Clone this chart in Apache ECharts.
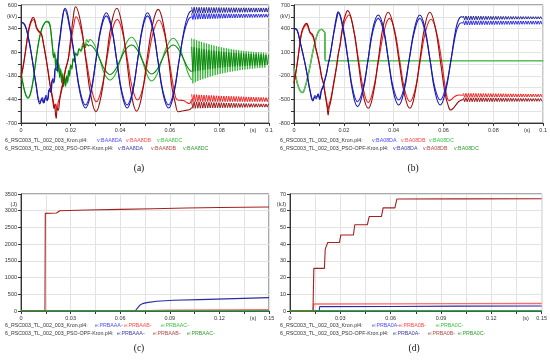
<!DOCTYPE html>
<html><head><meta charset="utf-8">
<script src="https://cdn.jsdelivr.net/npm/echarts/dist/echarts.min.js"></script>
<style>html,body{margin:0;padding:0;background:#fff}#c{width:550px;height:363px}</style>
</head><body><div id="c"></div>
<script>
// ---------------- DATA ----------------
// (a) voltages, Kron (bright) and PSO-OPF-Kron (dark): [time s, kV]
const aBlueK = [[0,410],[0.0015,380],[0.003,230],[0.0045,0],[0.006,-260],[0.0077,-470],[0.0086,-420],[0.0093,-475],[0.0101,-395],[0.0108,-440],[0.0115,-320],[0.0121,-350],[0.0128,-210],[0.0134,-240],[0.014,-80],[0.0146,-100],[0.0152,120],[0.0159,260],[0.0166,420],[0.0176,550],[0.0197,340],[0.0218,-10],[0.0239,-356],[0.026,-500],[0.0281,-356],[0.0302,-10],[0.0323,336],[0.0344,480],[0.0365,336],[0.0386,-10],[0.0407,-356],[0.0428,-500],[0.0449,-356],[0.047,-10],[0.049,336],[0.051,480],[0.0531,336],[0.0552,-10],[0.0573,-356],[0.0595,-500],[0.0616,-356],[0.0637,-20],[0.0658,300],[0.0675,440],[0.0688,470]];
const aBlueP = [[0,415],[0.0015,385],[0.003,240],[0.0045,10],[0.006,-270],[0.0076,-490],[0.0084,-440],[0.0091,-480],[0.0099,-420],[0.0106,-455],[0.0113,-340],[0.0119,-360],[0.0126,-230],[0.0132,-260],[0.0138,-100],[0.0144,-120],[0.015,100],[0.0157,250],[0.0164,400],[0.0172,530],[0.0178,565],[0.0197,360],[0.0218,-10],[0.0239,-381],[0.026,-535],[0.0281,-381],[0.0302,-10],[0.0323,361],[0.0344,515],[0.0365,361],[0.0386,-10],[0.0407,-381],[0.0428,-535],[0.0449,-381],[0.047,-10],[0.049,361],[0.051,515],[0.0531,361],[0.0552,-10],[0.0573,-381],[0.0595,-535],[0.0616,-381],[0.0637,-20],[0.0658,330],[0.0675,500],[0.0688,540]];
const aRedK = [[0,-195],[0.0008,-85],[0.0015,35],[0.0022,160],[0.0028,270],[0.0035,360],[0.0042,415],[0.005,440],[0.0057,400],[0.0063,340],[0.007,310],[0.0077,290],[0.0083,270],[0.009,180],[0.0097,80],[0.0103,-20],[0.011,-140],[0.0117,-270],[0.0123,-350],[0.013,-450],[0.0135,-520],[0.014,-490],[0.0145,-560],[0.015,-470],[0.0156,-420],[0.0163,-320],[0.017,-240],[0.018,-100],[0.019,0],[0.0198,120],[0.0205,250],[0.0213,380],[0.0222,470],[0.0243,320],[0.0263,0],[0.0284,-320],[0.0304,-465],[0.0325,-320],[0.0346,0],[0.0367,315],[0.0388,442],[0.0408,315],[0.0429,0],[0.0449,-315],[0.047,-447],[0.0491,-315],[0.0512,0],[0.0534,310],[0.0556,435],[0.0577,300],[0.0598,-20],[0.0612,-260],[0.0622,-400],[0.0628,-440],[0.064,-450],[0.0655,-452],[0.0666,-470],[0.0678,-485],[0.0688,-440]];
const aRedP = [[0,-205],[0.0008,-90],[0.0015,30],[0.0022,170],[0.0028,288],[0.0035,380],[0.0042,435],[0.0049,465],[0.0056,430],[0.0062,360],[0.0069,324],[0.0076,300],[0.0082,288],[0.0089,200],[0.0096,90],[0.0102,-6],[0.0109,-130],[0.0116,-263],[0.0122,-360],[0.0129,-470],[0.0133,-540],[0.0136,-500],[0.0139,-600],[0.0142,-650],[0.0146,-540],[0.015,-560],[0.0156,-447],[0.0163,-350],[0.017,-263],[0.018,-110],[0.019,-6],[0.0197,150],[0.0203,288],[0.021,450],[0.022,580],[0.0241,400],[0.0261,0],[0.0282,-403],[0.0302,-575],[0.0323,-403],[0.0344,0],[0.0365,400],[0.0386,565],[0.0406,400],[0.0426,0],[0.0446,-400],[0.0466,-570],[0.0487,-400],[0.0508,0],[0.0531,390],[0.0553,552],[0.0574,390],[0.0595,0],[0.061,-330],[0.0622,-480],[0.0634,-576],[0.0645,-570],[0.0655,-565],[0.0668,-558],[0.0682,-550],[0.0688,-530]];
const aGreenK = [[0,-150],[0.001,-300],[0.002,-400],[0.0028,-430],[0.0036,-400],[0.0045,-300],[0.0055,-120],[0.0065,80],[0.0075,240],[0.0085,340],[0.0095,400],[0.0103,420],[0.011,420],[0.0117,380],[0.0123,250],[0.0128,120],[0.0132,30],[0.0136,80],[0.014,-60],[0.0144,10],[0.0148,-120],[0.0152,-40],[0.0156,-180],[0.016,-100],[0.0164,-240],[0.0168,-150],[0.0172,-280],[0.0176,-190],[0.018,-300],[0.0184,-200],[0.0188,-260],[0.0192,-140],[0.0196,-190],[0.02,-80],[0.0205,-110],[0.021,0],[0.0215,-30],[0.022,60],[0.0227,40],[0.0234,120],[0.0242,100],[0.025,180],[0.0258,150],[0.0265,220],[0.0272,190],[0.0277,220],[0.0297,160],[0.0318,0],[0.0338,-166],[0.0359,-226],[0.038,-166],[0.0401,0],[0.0423,170],[0.0446,244],[0.0467,170],[0.0488,0],[0.0508,-168],[0.0527,-237],[0.0548,-168],[0.0569,0],[0.0592,165],[0.0614,233],[0.0635,165],[0.0656,0],[0.0675,-160],[0.0688,-226]];
const aGreenP = [[0,-140],[0.001,-290],[0.002,-390],[0.0028,-420],[0.0036,-390],[0.0045,-290],[0.0055,-110],[0.0065,90],[0.0075,250],[0.0085,350],[0.0095,400],[0.0103,415],[0.011,410],[0.0117,370],[0.0123,240],[0.0128,100],[0.0132,20],[0.0136,60],[0.014,-80],[0.0144,-10],[0.0148,-140],[0.0152,-60],[0.0156,-200],[0.016,-120],[0.0164,-260],[0.0168,-170],[0.0172,-300],[0.0176,-200],[0.018,-280],[0.0184,-180],[0.0188,-240],[0.0192,-120],[0.0196,-170],[0.02,-60],[0.0205,-90],[0.021,10],[0.0215,-10],[0.022,70],[0.0227,50],[0.0234,110],[0.0242,90],[0.025,150],[0.0258,130],[0.0265,170],[0.0272,150],[0.0277,160],[0.0297,113],[0.0318,0],[0.0338,-113],[0.0359,-165],[0.038,-113],[0.0401,0],[0.0423,113],[0.0446,160],[0.0467,113],[0.0488,0],[0.0508,-113],[0.0527,-160],[0.0548,-113],[0.0569,0],[0.0592,113],[0.0614,160],[0.0635,113],[0.0656,0],[0.0675,-100],[0.0688,-135]];
// (a) high-frequency oscillation after breaker opening, sampled every oscStep from aOscStart
const aOscStart = 0.0688, bOscStart = 0.068, oscStep = 0.0005;
const aBlueKosc = [508,440,508,442,507,443,507,445,506,446,506,447,505,448,505,449,505,450,504,451,504,452,504,453,503,454,503,455,503,456,503,457,502,458,502,459,502,460,502,460,501,461,501,462,501,462,501,463,500,463,500,464,500,464,500,465,500,465,500,466,500,466,500];
const aBluePosc = [575,508,575,509,574,510,574,511,574,511,573,512,573,513,573,513,572,514,572,515,572,515,571,516,571,516,571,517,571,517,570,518,570,518,570,519,570,519,569,519,569,520,569,520,569,520,569,521,568,521,568,521,568,521,568,522,568,522,568,522,568,522,568];
const aRedKosc = [-384,-465,-386,-465,-388,-465,-390,-465,-391,-465,-393,-465,-394,-465,-396,-465,-397,-465,-398,-465,-400,-465,-401,-465,-402,-465,-403,-465,-404,-465,-405,-465,-406,-465,-407,-465,-408,-465,-409,-465,-410,-465,-411,-465,-412,-465,-413,-465,-414,-465,-415,-465,-416,-465,-417,-465,-418,-465,-419,-465,-420,-465,-420];
const aRedPosc = [-465,-538,-466,-538,-467,-537,-468,-537,-469,-536,-470,-536,-471,-535,-472,-535,-473,-534,-474,-534,-475,-533,-476,-533,-477,-532,-478,-532,-479,-531,-480,-531,-481,-530,-482,-530,-483,-529,-484,-529,-485,-528,-485,-528,-486,-527,-486,-527,-487,-526,-487,-526,-488,-526,-488,-525,-489,-525,-489,-525,-490,-525,-490];
const aGreenKosc = [233,-263,222,-250,212,-238,202,-227,193,-217,184,-207,176,-198,168,-189,160,-181,153,-173,146,-166,140,-159,134,-153,128,-147,123,-141,118,-136,113,-131,109,-126,105,-122,101,-118,97,-114,94,-110,91,-107,88,-104,85,-101,83,-98,81,-95,79,-93,77,-91,75,-89,73];
const aGreenPosc = [140,-135,134,-130,128,-125,122,-120,117,-116,112,-112,107,-108,103,-104,99,-100,95,-97,91,-94,88,-91,85,-88,82,-85,79,-83,76,-81,74,-79,72,-77,70,-75,68,-73,66,-71,64,-70,62,-68,61,-67,59,-66,58,-65,57,-64,55,-63,54,-62,53,-61,52,-60,51];

// (b) voltages
const bBlueK = [[0,400],[0.0012,380],[0.0024,234],[0.0034,100],[0.0044,-41],[0.0054,-200],[0.0064,-380],[0.0077,-507],[0.0084,-450],[0.009,-470],[0.0097,-430],[0.0104,-486],[0.011,-380],[0.0117,-330],[0.0124,-250],[0.0131,-160],[0.0137,-60],[0.0144,40],[0.015,150],[0.0157,290],[0.0164,410],[0.0171,520],[0.0178,600],[0.0197,380],[0.0217,0],[0.0236,-374],[0.0255,-529],[0.0276,-374],[0.0297,0],[0.0317,370],[0.0338,530],[0.0359,370],[0.0379,0],[0.0399,-360],[0.042,-507],[0.0441,-360],[0.0462,0],[0.0484,370],[0.0505,530],[0.0525,370],[0.0546,0],[0.0566,-360],[0.0587,-507],[0.0608,-360],[0.0629,-20],[0.0648,320],[0.066,440],[0.0672,475],[0.068,470]];
const bBlueP = [[0,405],[0.0012,385],[0.0024,240],[0.0034,105],[0.0044,-40],[0.0054,-210],[0.0064,-390],[0.0076,-520],[0.0083,-470],[0.0089,-490],[0.0096,-440],[0.0103,-500],[0.0109,-400],[0.0116,-350],[0.0123,-260],[0.013,-180],[0.0136,-70],[0.0143,30],[0.0149,140],[0.0156,280],[0.0163,420],[0.017,540],[0.0177,615],[0.0197,420],[0.0217,0],[0.0236,-415],[0.0255,-592],[0.0276,-415],[0.0297,0],[0.0317,410],[0.0338,573],[0.0359,410],[0.0379,0],[0.0399,-405],[0.042,-571],[0.0441,-405],[0.0462,0],[0.0484,410],[0.0505,573],[0.0525,410],[0.0546,0],[0.0566,-405],[0.0587,-571],[0.0608,-405],[0.0629,-20],[0.0648,370],[0.066,510],[0.0672,550],[0.068,545]];
const bRedK = [[0,-290],[0.0008,-140],[0.0016,30],[0.0024,210],[0.0031,340],[0.0041,420],[0.0051,450],[0.0058,400],[0.0065,340],[0.0071,320],[0.0078,280],[0.0087,150],[0.0096,30],[0.0104,-90],[0.0111,-210],[0.0118,-290],[0.0124,-400],[0.0129,-490],[0.0133,-560],[0.0137,-620],[0.0141,-560],[0.0145,-520],[0.0151,-440],[0.0158,-310],[0.0164,-200],[0.0171,-70],[0.0178,80],[0.0185,190],[0.0191,320],[0.0198,430],[0.0206,510],[0.022,573],[0.0239,390],[0.0259,0],[0.0279,-380],[0.0298,-541],[0.0318,-375],[0.034,0],[0.0362,375],[0.0383,530],[0.0404,375],[0.0424,0],[0.0444,-375],[0.0465,-529],[0.0486,-375],[0.0507,0],[0.0528,365],[0.055,518],[0.0571,365],[0.0592,0],[0.0606,-330],[0.0615,-480],[0.0622,-515],[0.063,-505],[0.064,-475],[0.065,-455],[0.066,-445],[0.068,-448]];
const bRedP = [[0,-300],[0.0008,-150],[0.0016,20],[0.0024,220],[0.0031,361],[0.0041,440],[0.0051,467],[0.0058,420],[0.0065,350],[0.0071,340],[0.0078,300],[0.0087,160],[0.0096,40],[0.0104,-84],[0.0111,-220],[0.0118,-300],[0.0124,-422],[0.0129,-520],[0.0133,-600],[0.0137,-698],[0.0141,-600],[0.0145,-560],[0.0151,-465],[0.0158,-330],[0.0164,-220],[0.0171,-84],[0.0178,80],[0.0185,200],[0.0191,340],[0.0198,480],[0.0204,551],[0.0215,628],[0.0236,440],[0.0257,0],[0.0277,-431],[0.0298,-613],[0.0318,-431],[0.0338,0],[0.0358,431],[0.0378,607],[0.0399,431],[0.0421,0],[0.0443,-431],[0.0465,-613],[0.0485,-431],[0.0505,0],[0.0525,431],[0.0545,607],[0.0566,431],[0.0587,0],[0.0606,-420],[0.0618,-570],[0.0629,-635],[0.064,-610],[0.065,-570],[0.066,-530],[0.0673,-507],[0.068,-503]];
const bGreenK = [[0,-95],[0.0012,-280],[0.0024,-390],[0.0034,-415],[0.0044,-350],[0.0054,-230],[0.0064,-84],[0.0074,80],[0.0083,210],[0.0091,300],[0.0098,360],[0.0105,385],[0.0111,390],[0.0118,370],[0.0124,340],[0.01245,-8],[0.1,-8]];
const bGreenP = [[0,-92],[0.0012,-276],[0.0024,-386],[0.0034,-412],[0.0044,-348],[0.0054,-228],[0.0064,-82],[0.0074,82],[0.0083,212],[0.0091,302],[0.0098,362],[0.0105,386],[0.0111,390],[0.0118,372],[0.0124,342],[0.01245,-6],[0.1,-6]];
const bBlueKosc = [500,446,500,447,500,447,500,448,499,448,499,449,499,449,499,450,499,450,498,450,498,451,498,451,498,451,498,452,498,452,498,452,497,453,497,453,497,453,497,454,497,454,497,454,497,454,497,455,497,455,497,455,497,455,497,455,497,455,497,455,497,455,497,455];
const bBluePosc = [560,509,560,510,559,510,559,511,559,511,558,512,558,512,558,513,557,513,557,514,557,514,556,515,556,515,556,516,556,516,555,517,555,517,555,518,554,518,554,519,554,519,554,520,553,520,553,520,553,521,553,521,553,521,552,522,552,522,552,522,552,522,552,522];
const bRedKosc = [-422,-474,-423,-474,-423,-473,-424,-473,-424,-473,-424,-473,-425,-473,-425,-473,-425,-472,-426,-472,-426,-472,-426,-472,-427,-472,-427,-472,-427,-471,-428,-471,-428,-471,-428,-471,-429,-471,-429,-471,-429,-470,-430,-470,-430,-470,-430,-470,-431,-470,-431,-470,-431,-469,-432,-469,-432,-469,-432,-469,-432,-469,-432,-469];
const bRedPosc = [-478,-530,-479,-530,-479,-529,-480,-529,-480,-529,-480,-529,-481,-529,-481,-528,-481,-528,-482,-528,-482,-528,-482,-528,-483,-527,-483,-527,-483,-527,-484,-527,-484,-527,-484,-526,-485,-526,-485,-526,-485,-526,-486,-526,-486,-525,-486,-525,-487,-525,-487,-525,-487,-525,-488,-524,-488,-524,-488,-524,-488,-524,-488,-524];

// (c) energies (J)
const cRedP = [[0,0],[0.0145,0],[0.0147,2920],[0.0215,2930],[0.0225,2975],[0.0235,3000],[0.04,3020],[0.06,3040],[0.08,3060],[0.1,3080],[0.12,3095],[0.15,3110]];
const cRedK = [[0,0],[0.069,0],[0.075,15],[0.09,25],[0.12,35],[0.15,40]];
const cBlueP = [[0,0],[0.069,0],[0.0702,70],[0.0718,170],[0.0735,220],[0.0761,250],[0.0822,290],[0.0923,320],[0.108,340],[0.129,370],[0.15,400]];
const cBlueK = [[0,0],[0.15,0]];
const cGreenK = [[0,0],[0.15,0]];
const cGreenP = [[0,0],[0.15,0]];
// (d) energies (kJ)
const dRedP = [[0,0],[0.0137,0],[0.0142,25.5],[0.0205,25.5],[0.021,37],[0.0225,41],[0.0295,41],[0.0303,45.5],[0.0378,45.5],[0.0386,51.6],[0.0461,51.6],[0.0472,56.5],[0.0545,56.5],[0.0555,61.7],[0.0625,61.7],[0.0637,67],[0.1,67.1],[0.15,67.2]];
const dRedK = [[0,0],[0.0138,0],[0.0142,4.2],[0.06,4.3],[0.1,4.4],[0.15,4.5]];
const dBlueP = [[0,0],[0.0174,0],[0.0177,2.6],[0.06,2.7],[0.1,2.9],[0.15,3]];
const dBlueK = [[0,0],[0.15,0]];
const dGreenK = [[0,0],[0.15,0]];
const dGreenP = [[0,0],[0.15,0]];

// legend / caption texts
const fileK = '6_RSC003_TL_002_003_Kron.pl4:';
const fileP = '6_RSC003_TL_002_003_PSO-OPF-Kron.pl4:';
const namesA = ['v:BAA8DA','v:BAA8DB','v:BAA8DC'];
const namesB = ['v:BA08DA','v:BA08DB','v:BA08DC'];
const namesC = ['e:PRBAAA-','e:PRBAAB-','e:PRBAAC-'];
const namesD = ['e:PRBA0A-','e:PRBA0B-','e:PRBA0C-'];
const captions = ['(a)','(b)','(c)','(d)'];

// ---------------- CHART ----------------
const FONT = '"Liberation Sans", Arial, sans-serif';
const COL = {bK:'#1f1ff2', bP:'#1b1b95', rK:'#f41818', rP:'#960b0b', gK:'#30b430', gP:'#0a840a'};
const COL2 = {bK:'#5a5aff', bP:'#2a2aa5', rK:'#ff6a6a', rP:'#a52020', gK:'#3cc43c', gP:'#1a9a1a'};
const LEGK = ['#4b4bff','#ff4a4a','#3cc03c'];
const LEGP = ['#3a3aa8','#b04646','#2e9e2e'];

function osc(t0, vals){ return vals.map((v,i)=>[+(t0+i*oscStep).toFixed(5), v]); }

const grids = [
  {left:21, top:5, width:248, height:118},
  {left:294, top:5, width:250, height:118},
  {left:21, top:194, width:248, height:117},
  {left:290, top:194, width:254, height:117}
].map(g=>Object.assign(g,{show:true, borderColor:'#555', borderWidth:1, backgroundColor:'#fff', containLabel:false}));

const lbl = {fontSize:5.5, fontFamily:FONT, color:'#333'};
function xAx(i, max, step, fmt){
  return {type:'value', gridIndex:i, min:0, max:max, interval:step,
    axisLine:{show:true, onZero:false, lineStyle:{color:'#333', width:1}},
    axisTick:{show:true, length:3, lineStyle:{color:'#333'}},
    axisLabel:Object.assign({margin:4, formatter:fmt, showMinLabel:true, showMaxLabel:true}, lbl),
    splitLine:{show:true, lineStyle:{color:'#e3e3e3', width:1}},
    name:'(s)', nameLocation:'end', nameGap:-16,
    nameTextStyle:Object.assign({align:'center', verticalAlign:'top', padding:[4,0,0,0]}, lbl)};
}
function yAx(i, min, max, step, fmt, name){
  return {type:'value', gridIndex:i, min:min, max:max, interval:step,
    axisLine:{show:true, onZero:false, lineStyle:{color:'#333', width:1}},
    axisTick:{show:true, length:3, lineStyle:{color:'#333'}},
    axisLabel:Object.assign({margin:4, formatter:fmt}, lbl),
    splitLine:{show:true, lineStyle:{color:'#e3e3e3', width:1}},
    name:name||'', nameLocation:'end', nameGap:-10,
    nameTextStyle:Object.assign({align:'right', verticalAlign:'middle', padding:[0,4,0,0]}, lbl)};
}
const fmtX01 = v => { const k = Math.round(v/0.01); return k%2 ? '' : (k===0 ? '0' : String(+(k/100).toFixed(2))); };
const fmtX015 = v => { const k = Math.round(v/0.015); return k%2 ? '' : (k===0 ? '0' : (k*0.015).toFixed(2)); };
const fmtYa = v => { if (v===470) return '(kV)'; return Math.round((v+700)/130)%2 ? '' : String(v); };
const fmtYb = v => { if (v===550) return '(kV)'; return Math.round((v+800)/150)%2 ? '' : String(v); };
const fmtPlain = v => String(v);

const xAxes = [xAx(0,0.1,0.01,fmtX01), xAx(1,0.1,0.01,fmtX01), xAx(2,0.15,0.015,fmtX015), xAx(3,0.15,0.015,fmtX015)];
const yAxes = [yAx(0,-700,600,130,fmtYa), yAx(1,-800,700,150,fmtYb), yAx(2,0,3500,500,fmtPlain,'(J)'), yAx(3,0,70,10,fmtPlain,'(kJ)')];

function ln(i, data, color, width, smooth){
  return {type:'line', xAxisIndex:i, yAxisIndex:i, data:data, symbol:'none', showSymbol:false,
    smooth:smooth, lineStyle:{color:color, width:width}, itemStyle:{color:color}, silent:true, animation:false};
}
const S = 0.45;
const series = [
  ln(0,aGreenK,COL.gK,1.1,S), ln(0,osc(aOscStart,aGreenKosc),COL.gK,0.9,false),
  ln(0,aGreenP,COL.gP,1.1,S), ln(0,osc(aOscStart,aGreenPosc),COL.gP,0.9,false),
  ln(0,aRedK,COL.rK,1.1,S), ln(0,osc(aOscStart,aRedKosc),COL.rK,0.9,false),
  ln(0,aRedP,COL.rP,1.1,S), ln(0,osc(aOscStart,aRedPosc),COL.rP,0.9,false),
  ln(0,aBlueK,COL.bK,1.1,S), ln(0,osc(aOscStart,aBlueKosc),COL.bK,0.9,false),
  ln(0,aBlueP,COL.bP,1.1,S), ln(0,osc(aOscStart,aBluePosc),COL.bP,0.9,false),

  ln(1,bGreenP,COL.gP,1.3,S), ln(1,bGreenK,'#5cc45c',1.3,S),
  ln(1,bRedK,COL.rK,1.1,S), ln(1,osc(bOscStart,bRedKosc),COL.rK,0.9,false),
  ln(1,bRedP,COL.rP,1.1,S), ln(1,osc(bOscStart,bRedPosc),COL.rP,0.9,false),
  ln(1,bBlueK,COL.bK,1.1,S), ln(1,osc(bOscStart,bBlueKosc),COL.bK,0.9,false),
  ln(1,bBlueP,COL.bP,1.1,S), ln(1,osc(bOscStart,bBluePosc),COL.bP,0.9,false),

  ln(2,cBlueK,COL2.bK,1,false), ln(2,cRedK,COL2.rK,1.2,false), ln(2,cBlueP,COL2.bP,1.1,false),
  ln(2,cRedP,COL2.rP,1.1,false), ln(2,cGreenK,COL2.gK,1,false), ln(2,cGreenP,COL2.gP,1.1,false),

  ln(3,dBlueK,COL2.bK,1,false), ln(3,dRedK,COL2.rK,1.3,false), ln(3,dBlueP,COL2.bP,1.1,false),
  ln(3,dRedP,COL2.rP,1.1,false), ln(3,dGreenK,COL2.gK,1,false), ln(3,dGreenP,COL2.gP,1.1,false)
];

// legend lines under each panel
const legendLayout = [
  {x0:5,   y1:141, y2:149,   xs1:[97,126,157],  xs2:[118,151,183], names:namesA},
  {x0:280, y1:141, y2:149,   xs1:[372,401,429], xs2:[393,423,454], names:namesB},
  {x0:5,   y1:326, y2:333.5, xs1:[95,124,161],  xs2:[117,153,187], names:namesC},
  {x0:280, y1:326, y2:333.5, xs1:[372,399,436], xs2:[393,428,458], names:namesD}
];
const capPos = [[139,168],[413,168],[139,348],[414,348]];
const TFONT = '5.3px "Liberation Sans", Arial, sans-serif';
const graphic = [];
legendLayout.forEach((L,p)=>{
  graphic.push({type:'text', x:L.x0, y:L.y1, silent:true, style:{text:fileK, font:TFONT, fill:'#333', verticalAlign:'middle'}});
  graphic.push({type:'text', x:L.x0, y:L.y2, silent:true, style:{text:fileP, font:TFONT, fill:'#333', verticalAlign:'middle'}});
  L.names.forEach((n,j)=>{
    graphic.push({type:'text', x:L.xs1[j], y:L.y1, silent:true, style:{text:n, font:TFONT, fill:LEGK[j], verticalAlign:'middle'}});
    graphic.push({type:'text', x:L.xs2[j], y:L.y2, silent:true, style:{text:n, font:TFONT, fill:LEGP[j], verticalAlign:'middle'}});
  });
  graphic.push({type:'text', x:capPos[p][0], y:capPos[p][1], silent:true, style:{text:captions[p], font:'9.5px "Liberation Serif", "Times New Roman", serif', fill:'#111', align:'center', verticalAlign:'middle'}});
});

const chart = echarts.init(document.getElementById('c'), null, {renderer:'canvas'});
chart.setOption({animation:false, backgroundColor:'#fff', grid:grids, xAxis:xAxes, yAxis:yAxes, series:series, graphic:graphic});
</script>
</body></html>
